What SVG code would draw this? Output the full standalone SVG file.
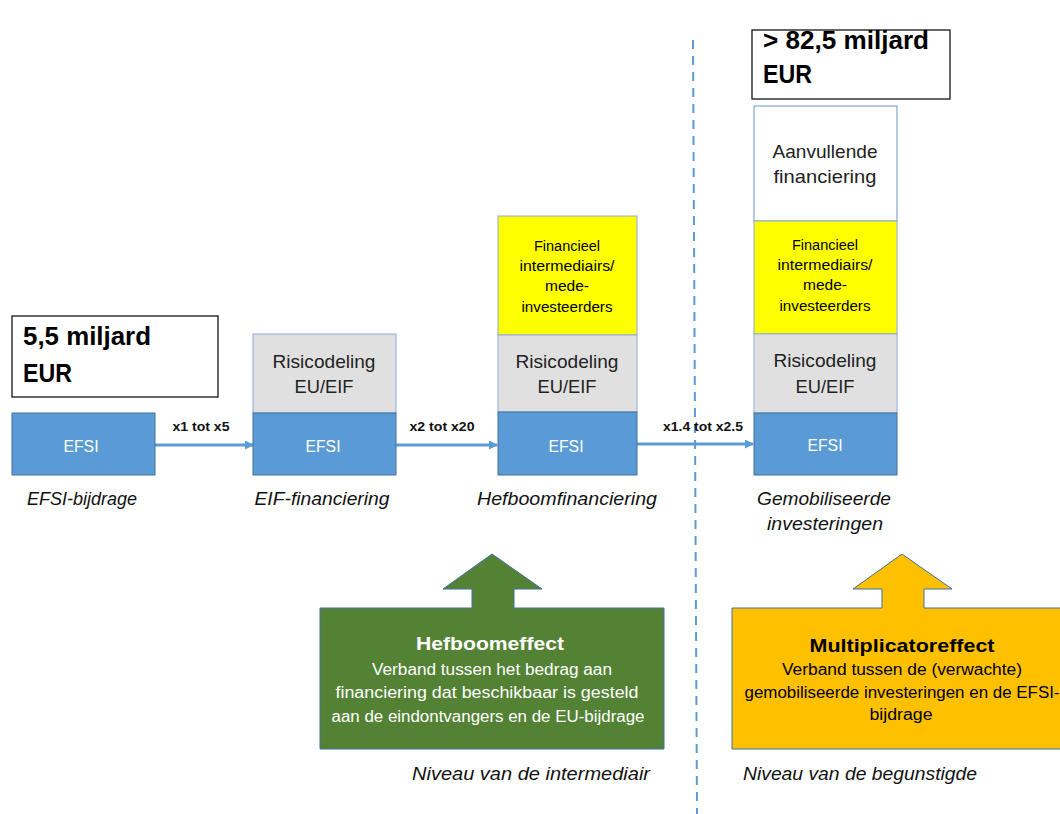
<svg xmlns="http://www.w3.org/2000/svg" width="1060" height="814" viewBox="0 0 1060 814">
<defs>
<marker id="ah" markerWidth="9" markerHeight="9" refX="8" refY="4.5" orient="auto" markerUnits="userSpaceOnUse">
<path d="M0,0 L9,4.5 L0,9 Z" fill="#5b9bd5"/>
</marker>
<style>
text{font-family:"Liberation Sans",Arial,sans-serif;}
.big{font-size:25px;font-weight:bold;fill:#000;}
.efsi{fill:#5b9bd5;stroke:#41719c;stroke-width:1;}
.gray{fill:#e0e0e0;stroke:#8faadc;stroke-width:1;}
.yel{fill:#ffff00;stroke:#8faadc;stroke-width:1;}
.wht{fill:#fff;stroke:#6d93c6;stroke-width:1;}
.tw{fill:#fff;font-size:16px;text-anchor:middle;}
.tm{fill:#222;font-size:19px;text-anchor:middle;}
.ts{fill:#000;font-size:14px;text-anchor:middle;}
.ital{font-style:italic;font-size:18px;fill:#111;text-anchor:middle;}
.lbl{font-size:13px;font-weight:bold;fill:#111;text-anchor:middle;}
.conn{stroke:#5b9bd5;stroke-width:3;fill:none;}
.hb{font-size:19px;font-weight:bold;text-anchor:middle;}
.hs{font-size:16px;text-anchor:middle;}
</style>
</defs>
<rect width="1060" height="814" fill="#fff"/>
<g id="connectors">
<line x1="693" y1="40" x2="697" y2="814" stroke="#5b9bd5" stroke-width="2" stroke-dasharray="9,7"/>
<line class="conn" x1="155" y1="445" x2="253" y2="445" marker-end="url(#ah)"/>
<line class="conn" x1="396" y1="445" x2="497" y2="445" marker-end="url(#ah)"/>
<line class="conn" x1="637" y1="444" x2="753" y2="444" marker-end="url(#ah)"/>
<text class="lbl" x="201" y="431" textLength="57" lengthAdjust="spacingAndGlyphs">x1 tot x5</text>
<text class="lbl" x="442" y="431" textLength="65" lengthAdjust="spacingAndGlyphs">x2 tot x20</text>
<text class="lbl" x="703" y="431" textLength="80" lengthAdjust="spacingAndGlyphs">x1.4 tot x2.5</text>
</g>
<g id="total-start">
<rect x="12" y="316" width="206" height="81" fill="#fff" stroke="#000" stroke-width="1.2"/>
<text class="big" x="23" y="345" textLength="128" lengthAdjust="spacingAndGlyphs">5,5 miljard</text>
<text class="big" x="23" y="382" textLength="49" lengthAdjust="spacingAndGlyphs">EUR</text>
</g>
<g id="col1">
<rect class="efsi" x="12" y="413" width="143" height="62"/>
<text class="tw" x="81" y="452" textLength="35" lengthAdjust="spacingAndGlyphs">EFSI</text>
<text class="ital" x="82" y="505" textLength="110" lengthAdjust="spacingAndGlyphs">EFSI-bijdrage</text>
</g>
<g id="col2">
<rect class="gray" x="253" y="334" width="143" height="79"/>
<text class="tm" x="324" y="368" textLength="103" lengthAdjust="spacingAndGlyphs">Risicodeling</text>
<text class="tm" x="324" y="393" textLength="59" lengthAdjust="spacingAndGlyphs">EU/EIF</text>
<rect class="efsi" x="253" y="413" width="143" height="62"/>
<text class="tw" x="323" y="452" textLength="35" lengthAdjust="spacingAndGlyphs">EFSI</text>
<text class="ital" x="322" y="505" textLength="135" lengthAdjust="spacingAndGlyphs">EIF-financiering</text>
</g>
<g id="col3">
<rect class="yel" x="498" y="216" width="139" height="119"/>
<text class="ts" x="567" y="251" textLength="66" lengthAdjust="spacingAndGlyphs">Financieel</text>
<text class="ts" x="567" y="271" textLength="95" lengthAdjust="spacingAndGlyphs">intermediairs/</text>
<text class="ts" x="567" y="291" textLength="44" lengthAdjust="spacingAndGlyphs">mede-</text>
<text class="ts" x="567" y="312" textLength="91" lengthAdjust="spacingAndGlyphs">investeerders</text>
<rect class="gray" x="498" y="335" width="139" height="77"/>
<text class="tm" x="567" y="368" textLength="103" lengthAdjust="spacingAndGlyphs">Risicodeling</text>
<text class="tm" x="567" y="393" textLength="59" lengthAdjust="spacingAndGlyphs">EU/EIF</text>
<rect class="efsi" x="498" y="412" width="139" height="63"/>
<text class="tw" x="566" y="452" textLength="35" lengthAdjust="spacingAndGlyphs">EFSI</text>
<text class="ital" x="567" y="505" textLength="180" lengthAdjust="spacingAndGlyphs">Hefboomfinanciering</text>
</g>
<g id="total-end">
<rect x="752" y="30" width="198" height="69" fill="#fff" stroke="#000" stroke-width="1.2"/>
<text class="big" x="763" y="49" textLength="166" lengthAdjust="spacingAndGlyphs">&gt; 82,5 miljard</text>
<text class="big" x="763" y="83" textLength="49" lengthAdjust="spacingAndGlyphs">EUR</text>
</g>
<g id="col4">
<rect class="wht" x="754" y="106" width="143" height="115"/>
<text class="tm" x="825" y="158" textLength="105" lengthAdjust="spacingAndGlyphs">Aanvullende</text>
<text class="tm" x="825" y="183" textLength="103" lengthAdjust="spacingAndGlyphs">financiering</text>
<rect class="yel" x="754" y="221" width="143" height="113"/>
<text class="ts" x="825" y="250" textLength="66" lengthAdjust="spacingAndGlyphs">Financieel</text>
<text class="ts" x="825" y="270" textLength="95" lengthAdjust="spacingAndGlyphs">intermediairs/</text>
<text class="ts" x="825" y="290" textLength="44" lengthAdjust="spacingAndGlyphs">mede-</text>
<text class="ts" x="825" y="311" textLength="91" lengthAdjust="spacingAndGlyphs">investeerders</text>
<rect class="gray" x="754" y="334" width="143" height="79"/>
<text class="tm" x="825" y="367" textLength="103" lengthAdjust="spacingAndGlyphs">Risicodeling</text>
<text class="tm" x="825" y="393" textLength="59" lengthAdjust="spacingAndGlyphs">EU/EIF</text>
<rect class="efsi" x="754" y="413" width="143" height="62"/>
<text class="tw" x="825" y="451" textLength="35" lengthAdjust="spacingAndGlyphs">EFSI</text>
<text class="ital" x="824" y="505" textLength="134" lengthAdjust="spacingAndGlyphs">Gemobiliseerde</text>
<text class="ital" x="825" y="530" textLength="116" lengthAdjust="spacingAndGlyphs">investeringen</text>
</g>
<g id="hefboomeffect">
<path d="M320,608 L472,608 L472,589 L443,589 L492,554 L542,589 L514,589 L514,608 L664,608 L664,749 L320,749 Z" fill="#548235" stroke="#41719c" stroke-width="1"/>
<text class="hb" x="490" y="650" fill="#fff" textLength="148" lengthAdjust="spacingAndGlyphs">Hefboomeffect</text>
<text class="hs" x="492" y="675" fill="#fff" textLength="240" lengthAdjust="spacingAndGlyphs">Verband tussen het bedrag aan</text>
<text class="hs" x="487" y="698" fill="#fff" textLength="303" lengthAdjust="spacingAndGlyphs">financiering dat beschikbaar is gesteld</text>
<text class="hs" x="488" y="722" fill="#fff" textLength="313" lengthAdjust="spacingAndGlyphs">aan de eindontvangers en de EU-bijdrage</text>
<text class="ital" x="531" y="780" textLength="238" lengthAdjust="spacingAndGlyphs">Niveau van de intermediair</text>
</g>
<g id="multiplicatoreffect">
<path d="M732,608 L882,608 L882,589 L853,589 L902,554 L952,589 L924,589 L924,608 L1062,608 L1062,749 L732,749 Z" fill="#ffc000" stroke="#41719c" stroke-width="1"/>
<text class="hb" x="902" y="652" fill="#000" textLength="185" lengthAdjust="spacingAndGlyphs">Multiplicatoreffect</text>
<text class="hs" x="902" y="675" fill="#000" textLength="240" lengthAdjust="spacingAndGlyphs">Verband tussen de (verwachte)</text>
<text class="hs" x="902" y="698" fill="#000" textLength="315" lengthAdjust="spacingAndGlyphs">gemobiliseerde investeringen en de EFSI-</text>
<text class="hs" x="901" y="720" fill="#000" textLength="63" lengthAdjust="spacingAndGlyphs">bijdrage</text>
<text class="ital" x="860" y="780" textLength="234" lengthAdjust="spacingAndGlyphs">Niveau van de begunstigde</text>
</g>
</svg>
